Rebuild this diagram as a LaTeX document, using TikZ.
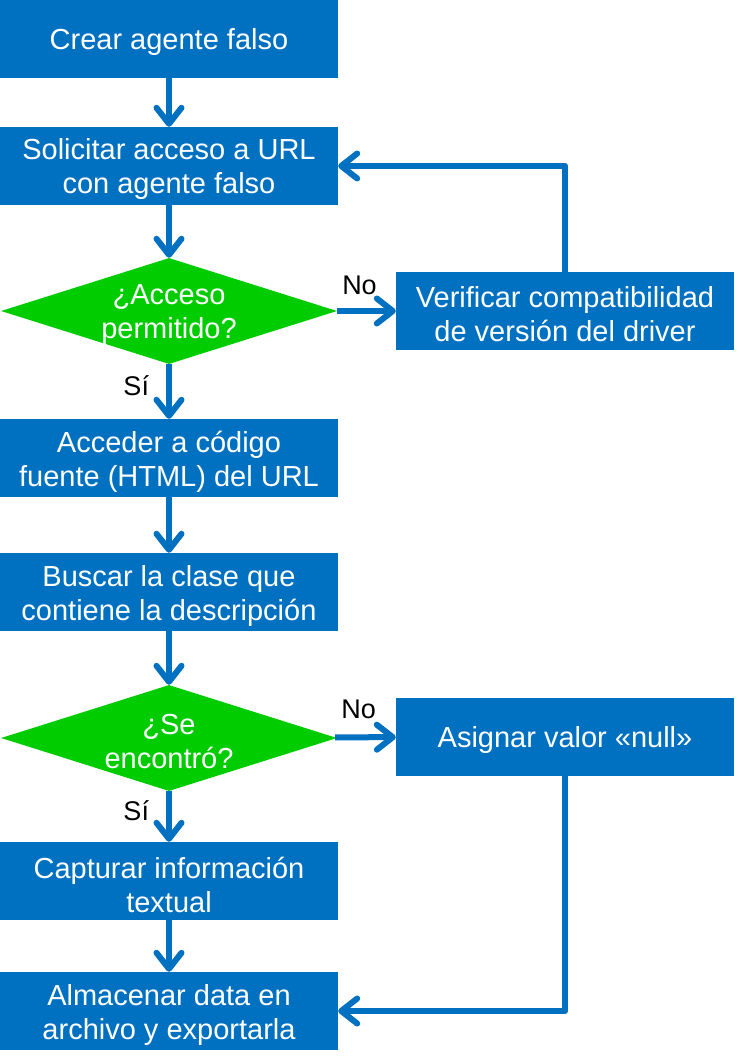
\documentclass[tikz,border=0pt]{standalone}
\usepackage{fontspec}
\setmainfont{Liberation Sans}
\usetikzlibrary{positioning,shapes.geometric,arrows.meta}
\definecolor{flujoazul}{RGB}{0,112,192}
\definecolor{flujoverde}{RGB}{0,204,0}

\begin{document}
\begin{tikzpicture}[x=1pt,y=-1pt,
	ptexto/.style={text=white, align=center, inner sep=0pt, yshift=-3.5pt, font=\fontsize{29}{34}\selectfont},
	paso/.style={fill=flujoazul, minimum width=338pt, minimum height=78pt, inner sep=0pt, label={[ptexto]center:#1}},
	decision/.style={diamond, fill=flujoverde, minimum width=336pt, minimum height=106pt, inner sep=0pt, label={[ptexto]center:#1}},
	flecha/.style={draw=flujoazul, line width=6pt, line join=round, -{Straight Barb[length=16pt,width=25pt,round]}},
	etiqueta/.style={font=\fontsize{27}{30}\selectfont, inner sep=0pt}]
	\useasboundingbox (0,0) rectangle (739,1064);

	% columna principal
	\node[paso={Crear agente falso}] (crear) at (169,39) {};
	\node[paso={Solicitar acceso a URL\\con agente falso}] (solicitar) at (169,166) {};
	\node[decision={¿Acceso\\permitido?}] (acceso) at (169,311) {};
	\node[paso={Acceder a código\\fuente (HTML) del URL}] (codigo) at (169,458) {};
	\node[paso={Buscar la clase que\\contiene la descripción}] (buscar) at (169,592) {};
	\node[decision={¿Se\\encontró?}] (encontro) at (169,738) {};
	\node[paso={Capturar información\\textual}] (capturar) at (169,881) {};
	\node[paso={Almacenar data en\\archivo y exportarla}] (almacenar) at (169,1011) {};

	% columna derecha
	\node[paso={Verificar compatibilidad\\de versión del driver}] (verificar) at (565,311) {};
	\node[paso={Asignar valor «null»}] (nulo) at (565,736.5) {};

	\draw[flecha] (crear) -- (solicitar);
	\draw[flecha] (solicitar) -- (acceso);
	\draw[flecha] (acceso) -- node[etiqueta, left=17pt, yshift=6pt] {Sí} (codigo);
	\draw[flecha] (acceso) -- node[etiqueta, above=13pt, xshift=-7pt] {No} (verificar);
	\draw[flecha] (verificar.north) |- (solicitar.east);
	\draw[flecha] (codigo) -- (buscar);
	\draw[flecha] (buscar) -- (encontro);
	\draw[flecha] (encontro) -- node[etiqueta, left=17pt, yshift=6pt] {Sí} (capturar);
	\draw[flecha] (encontro) -- node[etiqueta, above=15pt, xshift=-7pt] {No} (nulo);
	\draw[flecha] (capturar) -- (almacenar);
	\draw[flecha] (nulo.south) |- (almacenar.east);
\end{tikzpicture}
\end{document}
